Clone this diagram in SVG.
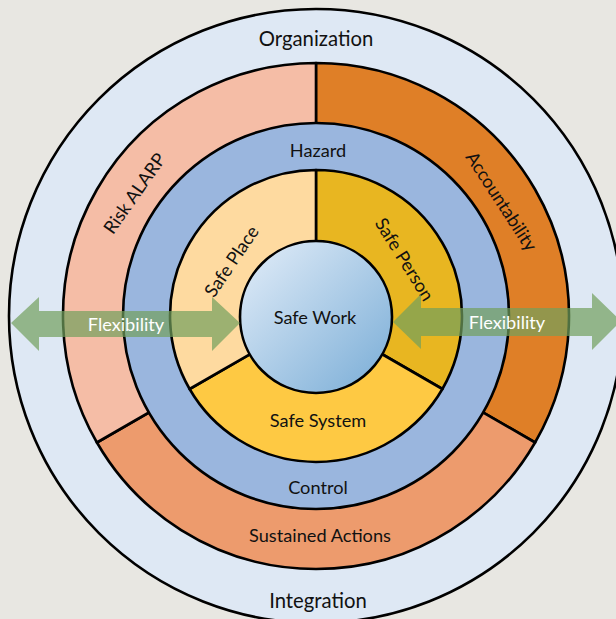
<svg xmlns="http://www.w3.org/2000/svg" width="616" height="619" viewBox="0 0 616 619">
<style>
.ln{stroke:#000;stroke-width:2.6;stroke-linejoin:round}
.t{font-family:Lato,"Open Sans","Liberation Sans",sans-serif;fill:#111111;text-anchor:middle;dominant-baseline:central}
.big{font-size:20.3px}
.md{font-size:18.2px}
.fx{font-family:Lato,"Open Sans","Liberation Sans",sans-serif;fill:#ffffff;font-size:18.2px;text-anchor:middle;dominant-baseline:central}
.arrow{fill:#72a05c;fill-opacity:0.7}
</style>
<defs>
<linearGradient id="gw" x1="0" y1="0" x2="1" y2="1">
<stop offset="0" stop-color="#e4eef9"/>
<stop offset="1" stop-color="#78acd6"/>
</linearGradient>
</defs>
<rect width="616" height="619" fill="#e8e7e2"/>
<g id="organization">
<circle class="ln" cx="316" cy="316" r="307" fill="#dee8f4"/>
<text class="t big" x="316" y="38">Organization</text>
<text class="t big" x="318" y="600">Integration</text>
</g>
<g id="accountability">
<path class="ln" d="M316 316 L316 63 A253 253 0 0 1 535.1 442.5 Z" fill="#df7f27"/>
<text class="t md" transform="translate(502 201) rotate(57)">Accountability</text>
</g>
<g id="sustained-actions">
<path class="ln" d="M316 316 L535.1 442.5 A253 253 0 0 1 96.9 442.5 Z" fill="#ed9b6d"/>
<text class="t md" x="320" y="535">Sustained Actions</text>
</g>
<g id="risk-alarp">
<path class="ln" d="M316 316 L96.9 442.5 A253 253 0 0 1 316 63 Z" fill="#f5bda6"/>
<text class="t md" transform="translate(134 193) rotate(-55)">Risk ALARP</text>
</g>
<g id="hazard-control">
<circle class="ln" cx="316" cy="316" r="193" fill="#9ab6de"/>
<text class="t md" x="318" y="150">Hazard</text>
<text class="t md" x="318" y="487">Control</text>
</g>
<g id="safe-person">
<path class="ln" d="M316 316 L316 170 A146 146 0 0 1 442.4 389 Z" fill="#e8b621"/>
<text class="t md" transform="translate(405 259) rotate(58)">Safe Person</text>
</g>
<g id="safe-system">
<path class="ln" d="M316 316 L442.4 389 A146 146 0 0 1 189.6 389 Z" fill="#fec943"/>
<text class="t md" x="318" y="420">Safe System</text>
</g>
<g id="safe-place">
<path class="ln" d="M316 316 L189.6 389 A146 146 0 0 1 316 170 Z" fill="#fedaa0"/>
<text class="t md" transform="translate(231 261) rotate(-56)">Safe Place</text>
</g>
<g id="safe-work">
<circle class="ln" cx="316" cy="317" r="76" fill="url(#gw)"/>
<text class="t md" x="315" y="317">Safe Work</text>
</g>
<g id="connectors">
<polygon class="arrow" points="11,323 39,297 39,311 212,311 212,297 240,323 212,351 212,337 39,337 39,351"/>
<polygon class="arrow" points="393,322 421,294 421,308 592,308 592,293 621,321 592,350 592,336 421,336 421,349"/>
<text class="fx" x="126" y="324">Flexibility</text>
<text class="fx" x="507" y="322">Flexibility</text>
</g>
</svg>
